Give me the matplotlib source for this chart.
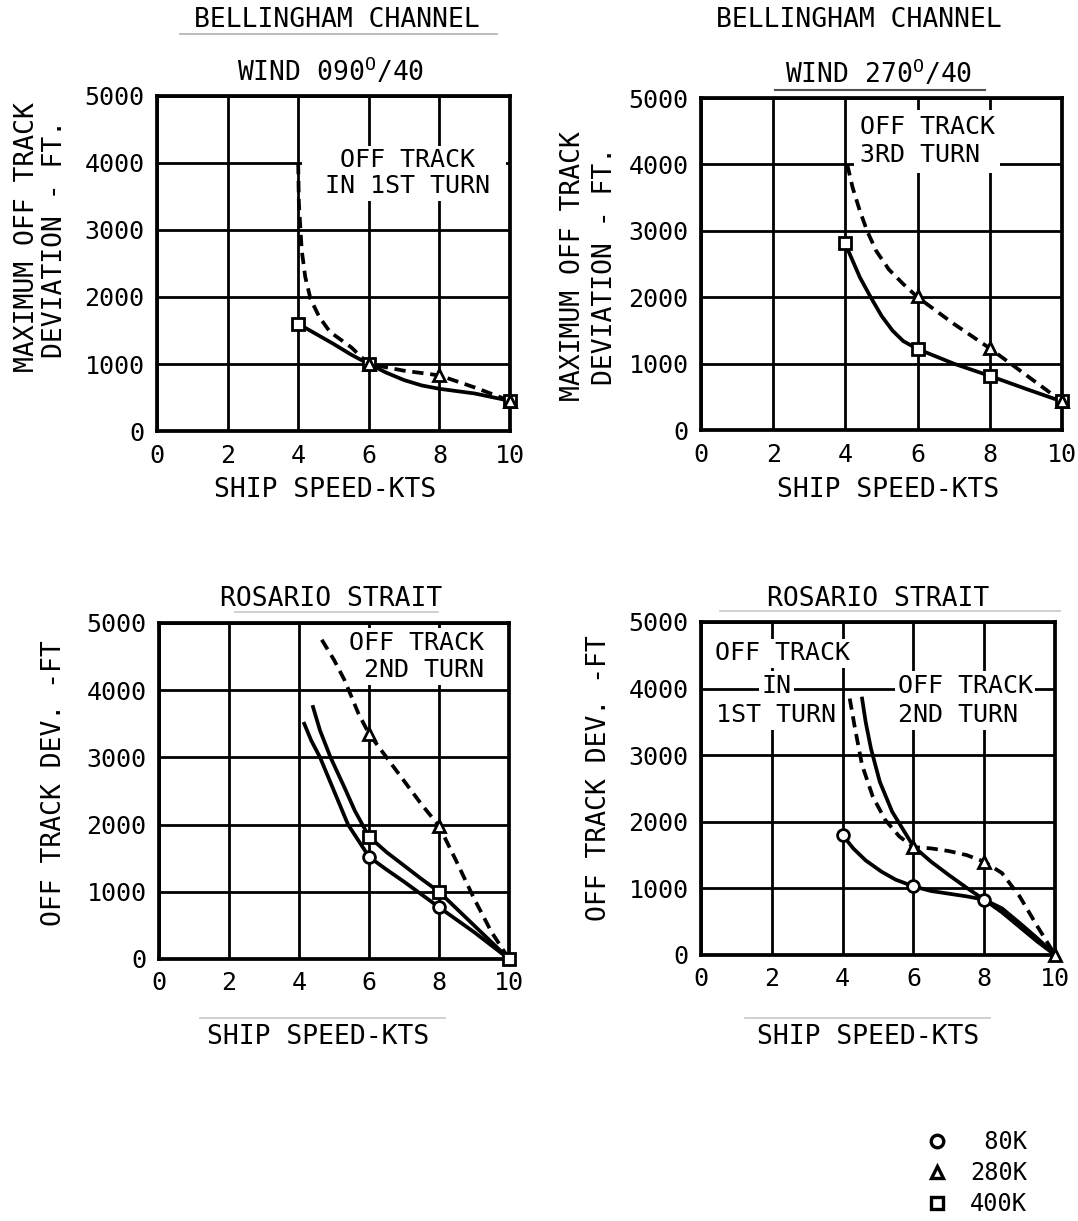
import matplotlib.pyplot as plt
from matplotlib.lines import Line2D
from matplotlib.patches import Rectangle

plt.rcParams['font.family'] = 'DejaVu Sans Mono'
plt.rcParams['mathtext.fontset'] = 'custom'
plt.rcParams['mathtext.rm'] = 'DejaVu Sans Mono'

speed_ticks = [0, 2, 4, 6, 8, 10]
dev_ticks = [0, 1000, 2000, 3000, 4000, 5000]

# --- Bellingham Channel, wind 090/40 ---
b090_400_x = [4, 4.5, 5, 5.5, 6, 6.5, 7, 7.5, 8, 9, 10]
b090_400_y = [1600, 1450, 1300, 1140, 1000, 870, 760, 680, 630, 560, 450]
b090_400_mx = [4, 6, 10]
b090_400_my = [1600, 1000, 450]
b090_280_x = [4.0, 4.02, 4.1, 4.2, 4.35, 4.6, 4.9, 5.5, 6, 7, 8, 9, 10]
b090_280_y = [4000, 3400, 2700, 2300, 1970, 1700, 1480, 1250, 1000, 900, 830, 650, 450]
b090_280_mx = [6, 8, 10]
b090_280_my = [1000, 830, 450]

# --- Bellingham Channel, wind 270/40 ---
b270_400_x = [4, 4.2, 4.4, 4.7, 5.0, 5.3, 5.6, 6, 7, 8, 9, 10]
b270_400_y = [2800, 2550, 2300, 2000, 1720, 1500, 1340, 1220, 1000, 815, 620, 430]
b270_400_mx = [4, 6, 8, 10]
b270_400_my = [2820, 1220, 815, 430]
b270_280_x = [4.05, 4.2, 4.4, 4.6, 4.85, 5.2, 5.6, 6, 7, 8, 9, 10]
b270_280_y = [4000, 3650, 3300, 3000, 2700, 2420, 2200, 2000, 1600, 1230, 830, 430]
b270_280_mx = [6, 8, 10]
b270_280_my = [2020, 1230, 430]

# --- Rosario Strait, 2nd turn ---
r2_400_x = [4.4, 4.6, 4.9, 5.3, 5.6, 6, 6.5, 7, 7.5, 8, 9, 10]
r2_400_y = [3750, 3400, 3000, 2550, 2200, 1820, 1590, 1390, 1190, 1000, 500, 0]
r2_400_mx = [6, 8, 10]
r2_400_my = [1820, 1000, 0]
r2_80_x = [4.15, 4.35, 4.6, 5.0, 5.4, 6, 6.5, 7, 7.5, 8, 9, 10]
r2_80_y = [3500, 3250, 3000, 2500, 2000, 1520, 1330, 1150, 960, 770, 400, 0]
r2_80_mx = [6, 8]
r2_80_my = [1520, 770]
r2_280_x = [4.65, 5.0, 5.3, 5.7, 6, 6.5, 7, 7.5, 8, 8.5, 9, 9.5, 10]
r2_280_y = [4750, 4450, 4150, 3650, 3350, 3000, 2650, 2300, 1980, 1450, 900, 400, 0]
r2_280_mx = [6, 8]
r2_280_my = [3350, 1980]

# --- Rosario Strait, 1st / 2nd turn ---
r1_80_x = [4, 4.3, 4.65, 5.1, 5.5, 6, 6.5, 7, 7.5, 8, 8.5, 9, 9.5, 10]
r1_80_y = [1800, 1600, 1420, 1250, 1130, 1030, 960, 920, 880, 830, 700, 480, 250, 0]
r1_80_mx = [4, 6, 8]
r1_80_my = [1800, 1030, 830]
r1_280_x = [4.2, 4.35, 4.55, 4.85, 5.2, 5.6, 6, 6.5, 7, 7.5, 8, 8.5, 9, 9.5, 10]
r1_280_y = [3850, 3400, 2850, 2380, 2030, 1780, 1620, 1600, 1560, 1500, 1400, 1230, 880, 430, 0]
r1_280_mx = [6, 8, 10]
r1_280_my = [1620, 1400, 0]
r1_400_x = [4.55, 4.65, 4.8, 5.05, 5.4, 6, 6.5, 7, 7.5, 8, 8.5, 9, 9.5, 10]
r1_400_y = [3850, 3500, 3100, 2600, 2150, 1630, 1400, 1200, 1010, 830, 640, 420, 200, 0]

legend_labels = [' 80K', '280K', '400K']

FS = 18
LW = 2.7
DASH = (3.0, 1.8)

fig = plt.figure(figsize=(10.78, 12.21), dpi=100)
W, H = 1078, 1221


def setup(rect):
    ax = fig.add_axes(rect)
    ax.set_xlim(0, 10)
    ax.set_ylim(0, 5000)
    ax.set_xticks(speed_ticks)
    ax.set_yticks(dev_ticks)
    ax.tick_params(length=0, labelsize=FS, pad=9)
    ax.grid(True, color='black', linewidth=2.0)
    ax.set_axisbelow(True)
    for s in ax.spines.values():
        s.set_linewidth(2.7)
    return ax


def markers(ax, x, y, m):
    ax.plot(x, y, linestyle='none', marker=m, markersize=8.5, mfc='white',
            mec='black', mew=2.0, zorder=5, clip_on=False)


box = dict(facecolor='white', edgecolor='none', pad=2)

# panel 1
ax1 = setup([0.1456, 0.6470, 0.3275, 0.2744])
ax1.add_patch(Rectangle((4.1, 3430), 5.8, 820, facecolor='white', edgecolor='none', zorder=2.5))
ax1.text(7.1, 3850, 'OFF TRACK\nIN 1ST TURN', fontsize=FS, ha='center', va='center',
         linespacing=1.15, zorder=3)
ax1.plot(b090_400_x, b090_400_y, color='black', lw=LW, zorder=4)
ax1.plot(b090_280_x, b090_280_y, color='black', lw=LW, dashes=DASH, zorder=4)
markers(ax1, b090_400_mx, b090_400_my, 's')
markers(ax1, b090_280_mx, b090_280_my, '^')

# panel 2
ax2 = setup([0.6503, 0.6478, 0.3349, 0.2719])
ax2.text(4.4, 4350, 'OFF TRACK\n3RD TURN', fontsize=FS, ha='left', va='center',
         linespacing=1.2, bbox=dict(facecolor='white', edgecolor='none', pad=4), zorder=3)
ax2.plot(b270_400_x, b270_400_y, color='black', lw=LW, zorder=4)
ax2.plot(b270_280_x, b270_280_y, color='black', lw=LW, dashes=DASH, zorder=4)
markers(ax2, b270_400_mx, b270_400_my, 's')
markers(ax2, b270_280_mx, b270_280_my, '^')

# panel 3
ax3 = setup([0.1475, 0.2146, 0.3247, 0.2752])
ax3.text(7.35, 4500, 'OFF TRACK\n 2ND TURN', fontsize=FS, ha='center', va='center',
         linespacing=1.2, bbox=box, zorder=3)
ax3.plot(r2_400_x, r2_400_y, color='black', lw=LW, zorder=4)
ax3.plot(r2_80_x, r2_80_y, color='black', lw=LW, zorder=4)
ax3.plot(r2_280_x, r2_280_y, color='black', lw=LW, dashes=DASH, zorder=4)
markers(ax3, r2_400_mx, r2_400_my, 's')
markers(ax3, r2_80_mx, r2_80_my, 'o')
markers(ax3, r2_280_mx, r2_280_my, '^')

# panel 4
ax4 = setup([0.6503, 0.2179, 0.3284, 0.2727])
ax4.text(2.3, 4530, 'OFF TRACK', fontsize=FS, ha='center', va='center', bbox=box, zorder=3)
ax4.text(2.13, 4035, 'IN', fontsize=FS, ha='center', va='center', bbox=box, zorder=3)
ax4.text(2.13, 3600, '1ST TURN', fontsize=FS, ha='center', va='center', bbox=box, zorder=3)
ax4.text(7.46, 4035, 'OFF TRACK', fontsize=FS, ha='center', va='center', bbox=box, zorder=3)
ax4.text(7.27, 3600, '2ND TURN', fontsize=FS, ha='center', va='center', bbox=box, zorder=3)
ax4.plot(r1_80_x, r1_80_y, color='black', lw=LW, zorder=4)
ax4.plot(r1_400_x, r1_400_y, color='black', lw=LW, zorder=4)
ax4.plot(r1_280_x, r1_280_y, color='black', lw=LW, dashes=DASH, zorder=4)
markers(ax4, r1_80_mx, r1_80_my, 'o')
markers(ax4, r1_280_mx, r1_280_my, '^')


# titles and axis labels (figure pixel positions)
def ftext(x, y, s, size=FS + 1, **kw):
    fig.text(x / W, 1 - y / H, s, fontsize=size, ha='center', va='center', **kw)


def uline(x0, x1, y, c='#b0b0b0', lw=1.2):
    fig.add_artist(Line2D([x0 / W, x1 / W], [1 - y / H, 1 - y / H], color=c, lw=lw))


ftext(337, 20, 'BELLINGHAM CHANNEL')
ftext(331, 72, 'WIND 090$^{\\mathrm{O}}$/40')
ftext(859, 20, 'BELLINGHAM CHANNEL')
ftext(879, 74, 'WIND 270$^{\\mathrm{O}}$/40')
ftext(331, 599, 'ROSARIO STRAIT')
ftext(878, 599, 'ROSARIO STRAIT')
uline(180, 497, 34)
uline(235, 438, 612, c='#c8c8c8')
uline(775, 985, 90, c='#505050', lw=1.5)
uline(720, 1060, 611, c='#c8c8c8')

ftext(27, 237, 'MAXIMUM OFF TRACK', rotation=90)
ftext(55, 239, 'DEVIATION - FT.', rotation=90)
ftext(573, 266, 'MAXIMUM OFF TRACK', rotation=90)
ftext(605, 266, 'DEVIATION - FT.', rotation=90)
ftext(54, 783, 'OFF TRACK DEV. -FT', rotation=90)
ftext(599, 778, 'OFF TRACK DEV. -FT', rotation=90)

ftext(325, 490, 'SHIP SPEED-KTS')
ftext(888, 490, 'SHIP SPEED-KTS')
ftext(318, 1037, 'SHIP SPEED-KTS')
ftext(868, 1037, 'SHIP SPEED-KTS')
uline(200, 445, 1018, c='#c8c8c8')
uline(745, 990, 1018, c='#c8c8c8')

handles = [Line2D([], [], linestyle='none', marker=m, markersize=9, mfc='white',
                  mec='black', mew=2.4) for m in ['o', '^', 's']]
fig.legend(handles, legend_labels, loc='upper left', bbox_to_anchor=(925 / W, 1 - 1130 / H),
           frameon=False, fontsize=FS - 1, handlelength=1.0, handletextpad=0.9,
           labelspacing=0.3, borderpad=0, borderaxespad=0)

fig.savefig('out.png', dpi=100)
